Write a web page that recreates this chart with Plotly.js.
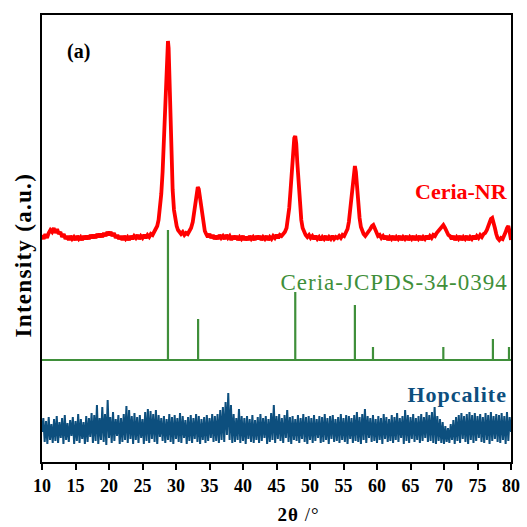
<!DOCTYPE html>
<html>
<head>
<meta charset="utf-8">
<script src="https://cdn.plot.ly/plotly-3.0.1.min.js"></script>
<style>html,body{margin:0;padding:0;background:#fff;}#chart{width:527px;height:527px;}</style>
</head>
<body>
<div id="chart"></div>
<script>
// Ceria-NR pattern (2θ, intensity in arbitrary units, vertically offset)
const ceriaX = [
 10,10.25,10.5,10.75,11,11.25,11.5,11.75,12,12.25,12.5,12.75,
 13,13.25,13.5,13.75,14,14.25,14.5,14.75,15,15.25,15.5,15.75,
 16,16.25,16.5,16.75,17,17.25,17.5,17.75,18,18.25,18.5,18.75,
 19,19.25,19.5,19.75,20,20.25,20.5,20.75,21,21.25,21.5,21.75,
 22,22.25,22.5,22.75,23,23.25,23.5,23.75,24,24.25,24.5,24.75,
 25,25.25,25.5,25.75,26,26.25,26.5,26.75,
 27,27.2,27.4,27.6,27.8,28,28.2,28.4,28.55,28.7,28.8,28.9,29,29.15,29.3,29.5,29.7,29.9,30.1,30.3,30.5,
 30.75,31,31.25,31.5,31.75,32,32.25,32.5,32.7,32.9,33.1,33.25,33.4,33.55,33.7,33.9,34.1,34.3,34.5,
 34.75,35,35.25,35.5,35.75,36,36.25,36.5,36.75,37,37.25,37.5,37.75,38,38.25,38.5,38.75,39,39.25,39.5,
 39.75,40,40.25,40.5,40.75,41,41.25,41.5,41.75,42,42.25,42.5,42.75,43,43.25,43.5,43.75,44,44.25,44.5,
 44.75,45,45.25,45.5,45.75,46,46.25,46.5,
 46.7,46.9,47.1,47.3,47.5,47.65,47.8,47.95,48.1,48.3,48.5,48.7,48.9,49.1,49.35,
 49.6,49.85,50.1,50.35,50.6,50.85,51.1,51.35,51.6,51.85,52.1,52.35,52.6,52.85,53.1,53.35,53.6,53.85,54.1,54.35,54.6,54.85,55.1,55.35,
 55.6,55.8,56,56.2,56.4,56.55,56.7,56.85,57,57.2,57.4,57.6,57.8,58,58.25,58.5,58.75,
 59,59.25,59.45,59.65,59.9,60.15,60.4,
 60.65,60.9,61.15,61.4,61.65,61.9,62.15,62.4,62.65,62.9,63.15,63.4,63.65,63.9,64.15,64.4,64.65,64.9,65.15,65.4,
 65.65,65.9,66.15,66.4,66.65,66.9,67.15,67.4,67.65,67.9,68.15,68.4,68.65,68.9,69.15,69.4,69.65,69.9,70.15,70.4,70.65,70.9,
 71.15,71.4,71.65,71.9,72.15,72.4,72.65,72.9,73.15,73.4,73.65,73.9,74.15,74.4,74.65,74.9,75.15,75.4,75.65,75.9,
 76.15,76.4,76.6,76.8,77,77.2,77.4,77.6,77.8,78,78.25,78.5,78.75,79,79.2,79.4,79.6,79.8,80
];
const ceriaY = [
 227,223,228,224,229,232,230,234,229,233,228,230,
 225,228,223,226,222,226,223,225,222,226,223,225,
 222,226,223,226,223,227,224,227,224,228,225,228,
 225,229,226,230,227,230,226,229,224,227,223,226,
 222,226,223,225,222,226,223,226,224,227,223,226,
 224,227,224,227,225,228,227,230,
 232,236,242,252,268,290,322,365,398,418,421,414,392,352,308,272,252,241,236,232,230,
 228,230,227,229,228,231,234,240,250,262,271,275,273,266,255,244,236,231,228,
 225,228,224,227,223,226,223,227,224,226,223,227,224,226,222,226,223,226,222,225,
 223,226,222,225,222,226,223,225,222,226,223,226,222,225,223,226,222,225,223,226,
 224,227,224,227,226,228,230,234,
 242,254,272,296,316,324,326,318,300,275,255,242,234,230,227,
 225,227,224,226,223,226,223,225,222,225,223,226,222,225,223,226,223,225,224,226,224,227,226,229,
 233,240,252,268,284,293,296,290,276,258,244,235,230,228,226,228,230,
 233,236,237,234,230,226,227,
 224,226,223,226,222,225,223,226,222,225,223,226,222,225,223,226,222,225,223,226,
 222,225,223,226,222,225,223,226,223,226,224,227,226,229,231,234,236,237,234,230,227,226,
 223,226,222,225,223,226,222,225,223,226,222,225,223,226,223,226,224,227,225,228,
 229,232,236,240,243,244,240,234,228,224,222,224,223,226,230,234,236,230,222
];

// JCPDS 34-0394 reference lines
const jcpdsX = [28.8, 33.3, 47.8, 56.7, 59.4, 69.9, 77.3, 79.7];
const jcpdsTop = [232, 143, 170, 157, 115, 115, 123, 115];
const jcpdsBase = 102;

// Hopcalite pattern, 2θ from 10 to 80 in steps of 0.2
const hopStart = 10, hopStep = 0.2;
const hopY = [
 30,44,20,41,18,45,22,38,19,43,
 21,46,19,40,24,44,18,47,22,39,
 20,42,26,45,18,41,21,48,19,43,
 23,40,18,46,20,44,25,49,19,47,
 21,57,18,44,22,55,20,48,17,62,
 24,45,19,50,21,43,26,47,18,44,
 20,48,22,56,19,52,23,46,18,49,
 22,45,19,47,24,43,18,50,21,53,
 19,51,23,48,20,52,18,47,25,44,
 21,46,19,43,22,48,20,45,18,47,
 23,44,20,49,19,46,24,42,18,45,
 21,47,19,44,23,48,20,46,18,43,
 22,45,19,47,21,44,24,48,20,46,
 21,48,19,52,22,55,20,60,27,69,
 22,57,19,48,20,44,22,53,19,46,
 21,44,18,46,23,43,20,47,19,42,
 22,45,19,48,21,44,24,46,18,43,
 20,49,22,57,19,46,23,48,21,44,
 19,47,24,52,20,45,18,46,22,43,
 21,47,19,44,23,48,20,45,18,46,
 22,44,19,47,21,43,24,46,19,45,
 20,48,22,44,18,46,23,47,20,43,
 21,45,19,48,22,44,20,47,18,46,
 23,44,19,47,21,50,20,45,18,48,
 22,53,19,46,24,44,20,47,21,43,
 19,46,22,44,18,48,23,45,20,43,
 21,47,19,45,22,49,20,44,24,46,
 18,52,21,47,19,45,23,48,20,44,
 22,46,19,48,21,45,24,50,20,47,
 21,50,19,55,18,46,21,43,19,40,
 18,36,20,34,19,38,22,42,18,45,
 21,47,19,49,23,46,20,48,18,50,
 22,47,19,49,21,46,24,48,20,45,
 19,49,22,47,18,50,21,46,23,48,
 20,47,19,49,22,46,18,50,21,45,
 30
];
const xTicks = [10,15,20,25,30,35,40,45,50,55,60,65,70,75,80];

const hopX = hopY.map((_, i) => +(hopStart + i * hopStep).toFixed(2));

// build JCPDS stick path along its baseline
const jx = [10], jy = [jcpdsBase];
jcpdsX.forEach((x, i) => { jx.push(x, x, x); jy.push(jcpdsBase, jcpdsTop[i], jcpdsBase); });
jx.push(80); jy.push(jcpdsBase);

const serif = "'Liberation Serif', 'Times New Roman', serif";
const red = '#ff0000', green = '#3f8f3a', blue = '#0d4f7e';

const traces = [
  {x: hopX, y: hopY, type: 'scatter', mode: 'lines', line: {color: blue, width: 2}, hoverinfo: 'skip'},
  {x: jx, y: jy, type: 'scatter', mode: 'lines', line: {color: green, width: 2.2}, hoverinfo: 'skip'},
  {x: ceriaX, y: ceriaY, type: 'scatter', mode: 'lines', line: {color: red, width: 3.8}, hoverinfo: 'skip'}
];

const ann = (o) => Object.assign({showarrow: false, xanchor: 'center', yanchor: 'middle'}, o);

const layout = {
  width: 527, height: 527,
  margin: {l: 42, r: 16, t: 15, b: 65},
  paper_bgcolor: '#fff', plot_bgcolor: '#fff',
  showlegend: false,
  xaxis: {
    range: [10, 80], tickvals: xTicks, ticktext: xTicks.map(String),
    ticks: 'outside', ticklen: 6, tickwidth: 2, tickcolor: '#000',
    showline: true, linecolor: '#000', linewidth: 2, mirror: true,
    showgrid: false, zeroline: false,
    tickfont: {family: serif, size: 18, color: '#000', weight: 'bold'}
  },
  yaxis: {
    range: [0, 447], showticklabels: false, ticks: '',
    showline: true, linecolor: '#000', linewidth: 2, mirror: true,
    showgrid: false, zeroline: false
  },
  annotations: [
    ann({xref: 'paper', yref: 'paper', x: 0.546, y: -0.117,
     text: '<b>2θ</b> /°', font: {family: serif, size: 19, color: '#000'}}),
    ann({xref: 'paper', yref: 'paper', x: -0.0405, y: 0.463, textangle: -90,
     text: '<b>Intensity (a.u.)</b>', font: {family: serif, size: 23, color: '#000'}}),
    ann({x: 15.4, y: 411, text: '<b>(a)</b>', font: {family: serif, size: 20, color: '#000'}}),
    ann({x: 72.6, y: 271, text: '<b>Ceria-NR</b>', font: {family: serif, size: 22, color: red}}),
    ann({x: 62.6, y: 180, text: 'Ceria-JCPDS-34-0394', font: {family: serif, size: 23, color: green}}),
    ann({x: 72.0, y: 68, text: '<b>Hopcalite</b>', font: {family: serif, size: 22, color: blue}})
  ]
};

const spacing = [1, 1.3, 0, 0, 1, 1];
Plotly.newPlot('chart', traces, layout, {displayModeBar: false, staticPlot: true}).then(() => {
  document.querySelectorAll('#chart .annotation-text').forEach((el, i) => {
    if (spacing[i]) el.style.letterSpacing = spacing[i] + 'px';
  });
});
</script>
</body>
</html>
